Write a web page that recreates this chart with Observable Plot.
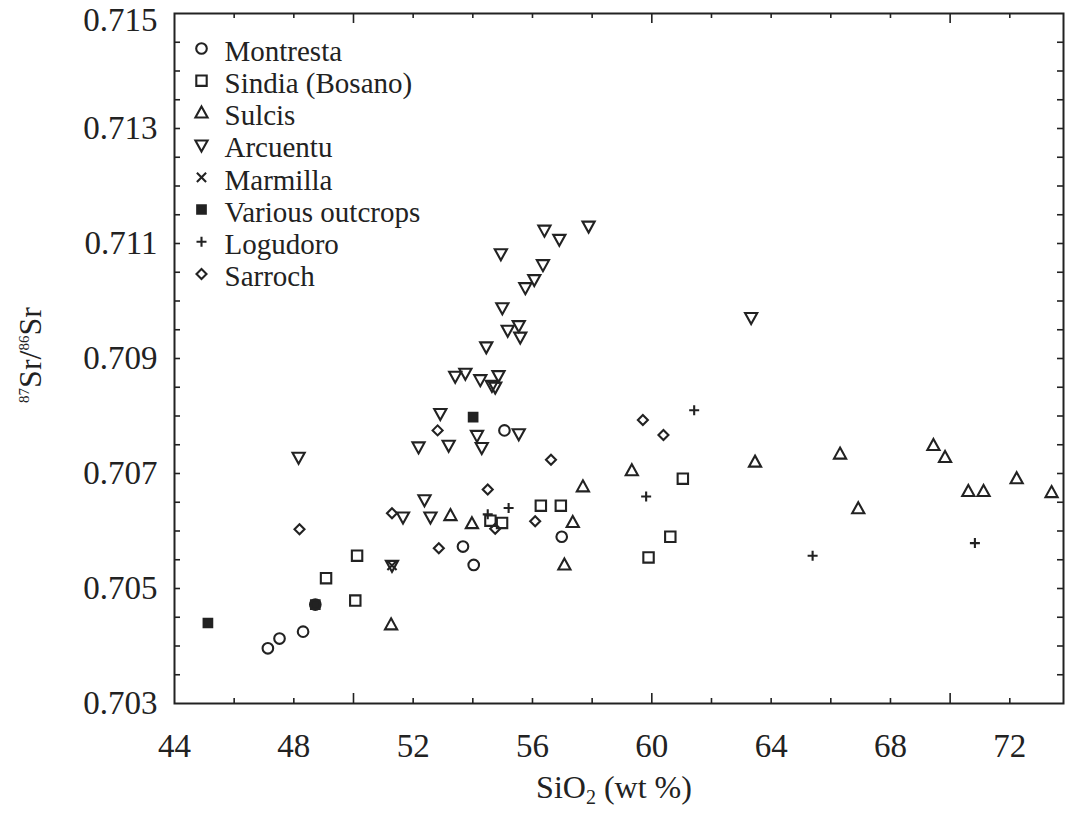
<!DOCTYPE html>
<html>
<head>
<meta charset="utf-8">
<script src="https://cdn.jsdelivr.net/npm/d3@7"></script>
<script src="https://cdn.jsdelivr.net/npm/@observablehq/plot@0.6"></script>
<style>
  body { margin: 0; background: #fff; }
  #chart svg { display: block; }
</style>
</head>
<body>
<div id="chart"></div>
<script>
// [SiO2 wt %, 87Sr/86Sr] for each locality
const montresta = [[47.13,0.70396],[47.52,0.70413],[48.31,0.70425],[48.72,0.70472],[53.67,0.70573],[54.03,0.70541],[56.98,0.70590],[55.06,0.70775]];
const sindia = [[49.08,0.70518],[50.12,0.70557],[50.06,0.70479],[54.59,0.70618],[54.98,0.70614],[56.28,0.70644],[56.95,0.70644],[59.89,0.70554],[60.62,0.70590],[61.04,0.70691]];
const sulcis = [[51.26,0.70437],[53.25,0.70627],[53.97,0.70613],[57.35,0.70615],[57.07,0.70541],[57.69,0.70677],[59.33,0.70705],[63.46,0.70720],[66.31,0.70734],[66.92,0.70639],[69.44,0.70749],[69.83,0.70728],[70.61,0.70669],[71.12,0.70669],[72.23,0.70691],[73.40,0.70667]];
const arcuentu = [[48.16,0.70728],[51.29,0.70540],[51.66,0.70624],[52.38,0.70654],[52.58,0.70624],[52.18,0.70746],[53.19,0.70749],[52.91,0.70804],[54.14,0.70766],[54.30,0.70745],[55.54,0.70769],[53.41,0.70869],[53.75,0.70874],[54.25,0.70863],[54.64,0.70853],[54.86,0.70870],[54.75,0.70850],[54.45,0.70920],[55.17,0.70949],[55.54,0.70957],[55.59,0.70937],[54.99,0.70988],[55.76,0.71023],[56.06,0.71037],[56.35,0.71063],[54.94,0.71082],[56.40,0.71123],[56.90,0.71107],[57.88,0.71130],[63.33,0.70971]];
const marmilla = [[51.29,0.70540]];
const variousOutcrops = [[45.12,0.70440],[48.72,0.70472],[54.01,0.70798]];
const logudoro = [[54.50,0.70629],[55.20,0.70640],[59.81,0.70660],[61.42,0.70810],[65.39,0.70557],[70.83,0.70579]];
const sarroch = [[48.19,0.70603],[51.29,0.70631],[52.82,0.70775],[52.86,0.70570],[54.50,0.70672],[54.75,0.70604],[56.09,0.70617],[56.62,0.70724],[59.70,0.70793],[60.39,0.70767]];

const seriesNames = ["Montresta", "Sindia (Bosano)", "Sulcis", "Arcuentu", "Marmilla", "Various outcrops", "Logudoro", "Sarroch"];

// Axis ticks and labels
const xLabelTicks = [44, 48, 52, 56, 60, 64, 68, 72];
const xMinorTicks = [46, 48, 52, 54, 56, 58, 62, 64, 66, 68, 72];
const xMajorTicks = [50, 60, 70];
const yLabelTicks = [0.703, 0.705, 0.707, 0.709, 0.711, 0.713];
const yTopLabel = [0.715];
const yMinorTicks = [0.7035, 0.704, 0.7045, 0.705, 0.7055, 0.706, 0.7065, 0.707, 0.7075, 0.708, 0.7085, 0.709, 0.7095, 0.710, 0.7105, 0.711, 0.7115, 0.712, 0.7125, 0.713, 0.7135, 0.714, 0.7145];

// Marker shapes; r is the half-extent derived from Plot's symbol size
const shape = fn => ({ draw(ctx, size) { fn(ctx, Math.sqrt(size / Math.PI)); } });
const circleSym = shape((c, r) => { c.moveTo(r, 0); c.arc(0, 0, r, 0, 2 * Math.PI); });
const squareSym = shape((c, r) => { c.rect(-r, -r, 2 * r, 2 * r); });
const triUpSym = shape((c, r) => { c.moveTo(0, -r * 1.1); c.lineTo(r * 1.05, r * 0.8); c.lineTo(-r * 1.05, r * 0.8); c.closePath(); });
const triDownSym = shape((c, r) => { c.moveTo(0, r * 1.1); c.lineTo(r * 1.05, -r * 0.8); c.lineTo(-r * 1.05, -r * 0.8); c.closePath(); });
const timesSym = shape((c, r) => { c.moveTo(-r, -r); c.lineTo(r, r); c.moveTo(r, -r); c.lineTo(-r, r); });
const plusSym = shape((c, r) => { c.moveTo(-r, 0); c.lineTo(r, 0); c.moveTo(0, -r); c.lineTo(0, r); });
const diamondSym = shape((c, r) => { c.moveTo(0, -r); c.lineTo(r, 0); c.lineTo(0, r); c.lineTo(-r, 0); c.closePath(); });

const ink = "#222";
const series = [
  { name: seriesNames[0], data: montresta, symbol: circleSym, r: 5.3, fill: "none" },
  { name: seriesNames[1], data: sindia, symbol: squareSym, r: 5.2, fill: "none" },
  { name: seriesNames[2], data: sulcis, symbol: triUpSym, r: 5.8, fill: "none" },
  { name: seriesNames[3], data: arcuentu, symbol: triDownSym, r: 5.8, fill: "none" },
  { name: seriesNames[4], data: marmilla, symbol: timesSym, r: 4.6, fill: "none" },
  { name: seriesNames[5], data: variousOutcrops, symbol: squareSym, r: 4.3, fill: ink },
  { name: seriesNames[6], data: logudoro, symbol: plusSym, r: 5, fill: "none" },
  { name: seriesNames[7], data: sarroch, symbol: diamondSym, r: 5, fill: "none" }
];

const font = "Liberation Serif, Times New Roman, serif";
const W = 1071, H = 814;
const mL = 174, mR = 8, mT = 13, mB = 111;
const frameW = W - mL - mR, frameH = H - mT - mB;

const dotMarks = series.map(s => Plot.dot(s.data, {
  x: d => d[0], y: d => d[1], symbol: s.symbol, r: s.r,
  fill: s.fill, stroke: ink, strokeWidth: 2.1
}));

const legendMarks = series.flatMap((s, i) => [
  Plot.dot([s.name], { frameAnchor: "top-left", dx: 27, dy: 35 + 32.2 * i, symbol: s.symbol, r: s.r, fill: s.fill, stroke: ink, strokeWidth: 2.1 }),
  Plot.text([s.name], { text: d => d, frameAnchor: "top-left", dx: 50, dy: 38 + 32.2 * i, textAnchor: "start", lineAnchor: "middle", fontSize: 29, fill: ink })
]);

// inward tick of a given pixel length along one side of the frame
const tickStyle = { stroke: ink, strokeWidth: 1.6 };
const xTicks = (values, len, side) => Plot.tickX(values, {
  x: d => d, ...tickStyle,
  ...(side === "bottom" ? { insetTop: frameH - len } : { insetBottom: frameH - len })
});
const yTicks = (values, len, side) => Plot.tickY(values, {
  y: d => d, ...tickStyle,
  ...(side === "left" ? { insetRight: frameW - len } : { insetLeft: frameW - len })
});

const chart = Plot.plot({
  width: W,
  height: H,
  marginLeft: mL,
  marginRight: mR,
  marginTop: mT,
  marginBottom: mB,
  style: { fontFamily: font, background: "#fff", color: ink },
  x: { domain: [44, 73.8], axis: null },
  y: { domain: [0.703, 0.715], axis: null },
  marks: [
    xTicks(xMinorTicks, 5, "bottom"),
    xTicks(xMajorTicks, 10, "bottom"),
    xTicks(xMinorTicks, 5, "top"),
    xTicks(xMajorTicks, 10, "top"),
    yTicks(yMinorTicks, 6, "left"),
    yTicks(yMinorTicks, 6, "right"),
    // tick labels
    Plot.axisX(xLabelTicks, { anchor: "bottom", tickSize: 0, tickPadding: 30, fontSize: 33, tickFormat: d => String(d), fill: ink }),
    Plot.axisY(yLabelTicks, { anchor: "left", tickSize: 0, tickPadding: 17, fontSize: 33, tickFormat: d3.format(".3f"), fill: ink }),
    Plot.axisY(yTopLabel, { anchor: "left", tickSize: 0, tickPadding: 17, fontSize: 33, dy: 7, tickFormat: d3.format(".3f"), fill: ink }),
    Plot.frame({ stroke: ink, strokeWidth: 2 }),
    ...dotMarks,
    ...legendMarks
  ]
});

// Axis titles with sub- and superscripts
const svg = d3.select(chart);
const xt = svg.append("text")
  .attr("x", 614).attr("y", 798)
  .attr("text-anchor", "middle")
  .attr("font-family", font).attr("font-size", 32).attr("fill", ink);
xt.append("tspan").text("SiO");
xt.append("tspan").attr("dy", 6).attr("font-size", 20).text("2");
xt.append("tspan").attr("dy", -6).text("\u00a0(wt %)");

const yt = svg.append("text")
  .attr("transform", "translate(41,355) rotate(-90)")
  .attr("text-anchor", "middle")
  .attr("font-family", font).attr("font-size", 32).attr("fill", ink);
yt.append("tspan").attr("font-size", 15).attr("dy", -12).text("87");
yt.append("tspan").attr("dy", 12).text("Sr/");
yt.append("tspan").attr("font-size", 15).attr("dy", -12).text("86");
yt.append("tspan").attr("dy", 12).text("Sr");

document.getElementById("chart").append(chart);
</script>
</body>
</html>
